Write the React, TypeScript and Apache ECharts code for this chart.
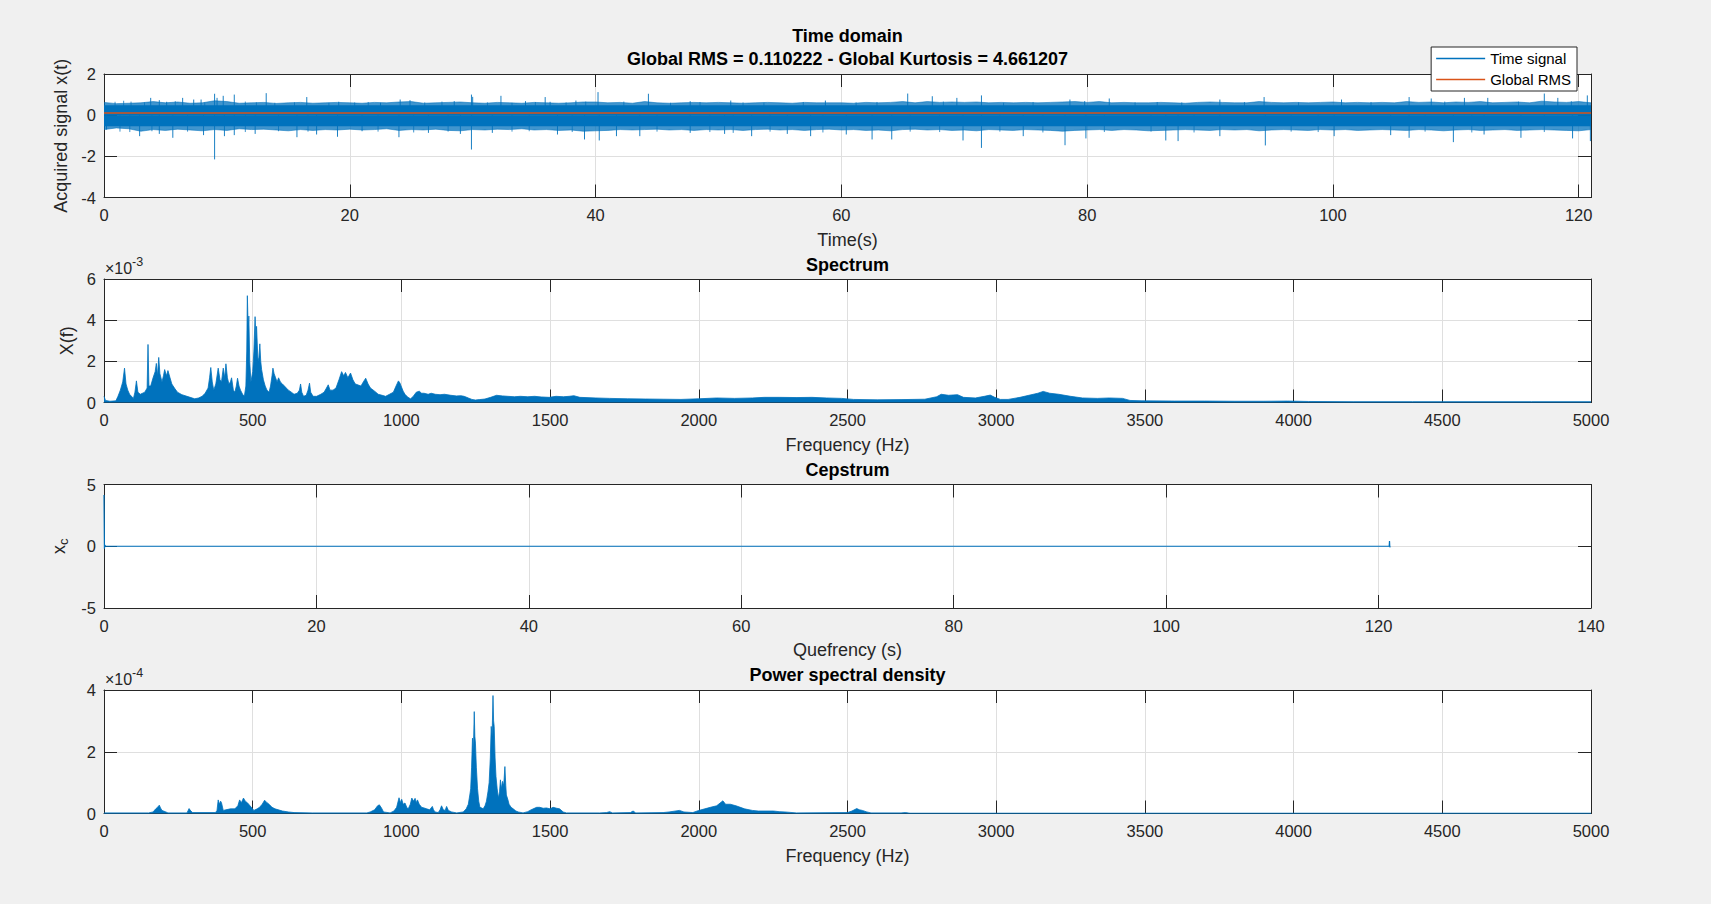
import React, { useEffect, useRef } from "react";
import * as echarts from "echarts";

const FONT = '"Liberation Sans", Arial, Helvetica, sans-serif';
const BLUE = "#0072BD";
const ORANGE = "#D95319";
const AX = "#262626";
const GRIDC = "#dfdfdf";

// ---------- Time domain ----------
const timeMax = 121;
const globalRms = 0.110222;
const globalKurtosis = 4.661207;
const timeCoreHi = 0.48;
const timeCoreLo = -0.54;
// fringe extent per second, t = 0..121
const timeFringeHi = [
  0.62, 0.56, 0.58, 0.6, 0.66, 0.6, 0.64, 0.58, 0.6, 0.7,
  0.66, 0.58, 0.6, 0.62, 0.57, 0.6, 0.62, 0.58, 0.6, 0.62,
  0.6, 0.58, 0.62, 0.6, 0.64, 0.66, 0.58, 0.6, 0.62, 0.64,
  0.6, 0.58, 0.62, 0.6, 0.58, 0.62, 0.6, 0.58, 0.6, 0.64,
  0.64, 0.6, 0.62, 0.58, 0.66, 0.6, 0.58, 0.6, 0.62, 0.6,
  0.62, 0.6, 0.58, 0.6, 0.62, 0.6, 0.58, 0.62, 0.6, 0.6,
  0.6, 0.58, 0.62, 0.6, 0.62, 0.66, 0.6, 0.66, 0.62, 0.64,
  0.62, 0.64, 0.6, 0.62, 0.6, 0.62, 0.6, 0.62, 0.64, 0.66,
  0.62, 0.66, 0.6, 0.62, 0.6, 0.6, 0.62, 0.6, 0.58, 0.62,
  0.64, 0.62, 0.6, 0.6, 0.66, 0.62, 0.6, 0.62, 0.6, 0.62,
  0.64, 0.6, 0.62, 0.6, 0.62, 0.6, 0.66, 0.62, 0.64, 0.6,
  0.64, 0.62, 0.66, 0.6, 0.62, 0.64, 0.6, 0.68, 0.64, 0.62, 0.66, 0.6,
];
const timeFringeLo = [
  -0.7, -0.62, -0.66, -0.78, -0.7, -0.74, -0.68, -0.72, -0.76, -0.7,
  -0.74, -0.66, -0.7, -0.68, -0.72, -0.76, -0.7, -0.74, -0.7, -0.72,
  -0.68, -0.72, -0.7, -0.66, -0.74, -0.7, -0.72, -0.68, -0.74, -0.76,
  -0.7, -0.72, -0.68, -0.7, -0.66, -0.72, -0.7, -0.74, -0.72, -0.78,
  -0.76, -0.74, -0.7, -0.72, -0.7, -0.68, -0.72, -0.7, -0.74, -0.7,
  -0.72, -0.7, -0.74, -0.7, -0.68, -0.72, -0.7, -0.74, -0.7, -0.68,
  -0.72, -0.7, -0.74, -0.72, -0.76, -0.7, -0.68, -0.72, -0.7, -0.74,
  -0.72, -0.76, -0.7, -0.72, -0.74, -0.7, -0.72, -0.74, -0.78, -0.74,
  -0.72, -0.7, -0.74, -0.7, -0.72, -0.76, -0.74, -0.72, -0.7, -0.72,
  -0.74, -0.7, -0.72, -0.7, -0.76, -0.72, -0.7, -0.72, -0.74, -0.7,
  -0.72, -0.7, -0.74, -0.72, -0.7, -0.72, -0.74, -0.7, -0.72, -0.76,
  -0.72, -0.7, -0.74, -0.72, -0.7, -0.74, -0.72, -0.7, -0.72, -0.74, -0.76, -0.7,
];
// large spikes
const upSpikeT = [
  3.8, 4.5, 5.1, 6.4, 7.3, 7.9, 9.0, 9.2, 9.7, 10.6, 13.2, 16.5, 19.1, 22.5, 24.1, 24.9,
  28.5, 29.9, 30.0, 32.3, 34.3, 35.9, 36.3, 38.4, 40.2, 44.3, 47.7, 51.0, 58.7, 65.4,
  67.4, 69.4, 71.4, 78.6, 79.8, 81.8, 90.8, 94.4, 100.7, 106.2, 108.0, 110.7, 112.6,
  117.2, 118.3, 120.7,
];
const upSpikeV = [
  0.84, 0.73, 0.65, 0.84, 0.76, 0.76, 1.04, 0.84, 0.94, 1.0, 1.07, 0.88, 0.65, 0.6, 0.76, 0.73,
  0.68, 1.0, 0.89, 0.94, 0.68, 0.88, 0.65, 0.71, 1.12, 1.04, 0.68, 0.71, 0.71, 1.05,
  0.92, 0.84, 0.96, 0.76, 0.68, 0.81, 0.76, 0.88, 0.76, 0.88, 0.81, 0.84, 0.84,
  1.05, 0.84, 0.96,
];
const downSpikeT = [
  0.2, 2.9, 4.5, 5.6, 8.1, 9.0, 9.8, 10.6, 12.3, 15.7, 17.3, 19.0, 21.0, 24.0, 26.4, 29.0,
  29.9, 31.6, 36.9, 39.1, 40.3, 41.7, 43.6, 47.7, 50.5, 52.7, 55.6, 57.5, 60.4, 62.5,
  64.1, 69.9, 71.4, 74.8, 78.2, 79.9, 86.4, 87.4, 90.8, 94.5, 100.1, 104.7, 106.2,
  109.8, 112.3, 115.3, 119.5, 120.95,
];
const downSpikeV = [
  -0.7, -1.02, -0.91, -1.1, -0.97, -2.15, -1.02, -0.97, -0.91, -1.07, -0.94, -1.05, -0.78, -1.07, -0.86, -0.91,
  -1.67, -0.86, -0.94, -1.18, -1.23, -1.02, -1.02, -0.86, -0.91, -1.02, -0.91, -1.02, -0.94, -1.18,
  -1.18, -1.23, -1.59, -1.02, -1.46, -1.13, -1.23, -1.26, -1.02, -1.47, -1.02, -0.97, -1.1,
  -1.31, -0.94, -1.1, -1.13, -1.26,
];
// smaller spikes along the band edges
const smallUpT = [
  0.9, 1.6, 2.2, 3.3, 5.8, 8.2, 11.5, 12.4, 13.9, 15.5, 18.3, 20.4, 21.5, 26.1, 27.5, 31.2,
  33.2, 35.1, 37.6, 39.2, 42.3, 46.1, 48.5, 52.0, 53.7, 56.9, 61.2, 62.9, 68.3, 73.2, 75.6,
  83.9, 85.7, 87.7, 92.8, 97.2, 103.1, 109.1, 115.1, 119.4,
];
const smallUpV = [
  0.65, 0.7, 0.66, 0.62, 0.68, 0.62, 0.66, 0.62, 0.6, 0.62, 0.6, 0.62, 0.64, 0.62, 0.66, 0.62,
  0.6, 0.64, 0.62, 0.66, 0.66, 0.6, 0.64, 0.62, 0.6, 0.64, 0.62, 0.64, 0.66, 0.6, 0.64,
  0.62, 0.64, 0.62, 0.64, 0.62, 0.64, 0.66, 0.66, 0.68,
];
const smallDownT = [
  1.3, 2.1, 3.9, 6.8, 11.5, 14.2, 16.6, 22.3, 25.2, 28.0, 33.2, 34.6, 38.1,
  45.0, 49.3, 51.2, 54.2, 58.5, 65.6, 68.0, 72.9, 76.4,
  81.4, 85.2, 88.7, 96.6, 98.8, 107.5, 111.3, 117.2,
];
const smallDownV = [
  -0.8, -0.82, -0.78, -0.8, -0.82, -0.78, -0.8, -0.8, -0.84, -0.8, -0.8, -0.78, -0.82,
  -0.8, -0.82, -0.86, -0.8, -0.84, -0.8, -0.82, -0.8, -0.84,
  -0.82, -0.8, -0.84, -0.8, -0.82, -0.8, -0.84, -0.82,
];

// ---------- Spectrum (x 10^-3) ----------
const specFreq = [
  0, 5, 20, 40, 47, 55, 63, 69, 74, 80, 86, 99, 104, 109, 114, 122, 137, 145, 148, 151,
  157, 165, 172, 176, 180, 184, 188, 195, 200, 204, 210, 215, 222, 228, 237, 247, 262, 279, 305, 318,
  330, 340, 350, 355, 359, 364, 369, 376, 384, 390, 395, 401, 406, 410, 415, 420, 425, 429, 435, 440,
  445, 449, 454, 459, 466, 472, 477, 480, 482, 485, 487, 490, 494, 500, 504, 508, 511, 513, 516, 518,
  521, 524, 527, 530, 536, 542, 548, 555, 560, 565, 568, 572, 577, 582, 587, 593, 600, 610, 620, 630,
  639, 650, 657, 661, 665, 671, 680, 686, 691, 695, 703, 715, 729, 740, 748, 754, 760, 770, 780, 790,
  799, 806, 812, 820, 829, 837, 845, 855, 864, 872, 880, 888, 896, 910, 922, 935, 947, 960, 973, 982,
  990, 995, 999, 1006, 1012, 1022, 1031, 1040, 1050, 1060, 1068, 1076, 1090, 1100, 1114, 1130, 1145, 1166, 1185, 1200,
  1211, 1225, 1237, 1249, 1262, 1281, 1300, 1320, 1340, 1358, 1380, 1400, 1425, 1448, 1470, 1497, 1520, 1545, 1564, 1580,
  1600, 1654, 1700, 1760, 1820, 1880, 1940, 2000, 2060, 2120, 2180, 2220, 2270, 2330, 2380, 2430, 2480, 2520, 2600, 2680,
  2760, 2800, 2815, 2840, 2870, 2890, 2930, 2960, 2980, 2995, 3014, 3040, 3080, 3110, 3140, 3158, 3180, 3210, 3250, 3290,
  3340, 3380, 3425, 3450, 3490, 3600, 3700, 3800, 3900, 3980, 4050, 4200, 4400, 4600, 4800, 5000,
];
const specAmp = [
  0.3, 0.1, 0.06, 0.08, 0.3, 0.6, 1.0, 1.67, 0.9, 0.6, 0.4, 0.2, 0.5, 1.05, 0.5, 0.4, 0.5, 0.7, 2.82, 0.8,
  0.8, 1.2, 1.5, 1.9, 1.3, 2.19, 1.4, 1.0, 1.3, 1.6, 1.3, 1.55, 1.2, 0.9, 0.7, 0.5, 0.38, 0.3, 0.18, 0.22,
  0.3, 0.45, 0.7, 1.2, 1.7, 1.0, 0.6, 0.9, 1.67, 1.1, 1.0, 1.67, 1.2, 1.88, 1.2, 0.9, 1.0, 1.2, 0.6, 0.5,
  0.8, 1.18, 0.8, 0.6, 0.4, 0.3, 0.8, 2.5, 5.19, 3.5, 4.2, 2.0, 1.0, 1.5, 2.5, 4.17, 3.0, 3.7, 2.6, 2.0,
  2.2, 2.85, 2.0, 1.6, 1.1, 0.8, 0.6, 0.5, 0.8, 1.3, 1.67, 1.4, 1.2, 1.0, 1.2, 1.0, 0.9, 0.75, 0.6, 0.5,
  0.4, 0.45, 0.6, 0.9, 0.5, 0.3, 0.35, 0.6, 0.94, 0.5, 0.3, 0.3, 0.4, 0.5, 0.7, 0.86, 0.6, 0.6, 0.7, 1.1,
  1.5, 1.3, 1.46, 1.2, 1.43, 1.1, 0.9, 0.85, 0.8, 1.0, 1.18, 0.9, 0.7, 0.55, 0.4, 0.35, 0.3, 0.4, 0.5, 0.8,
  1.05, 0.95, 0.8, 0.55, 0.4, 0.25, 0.18, 0.3, 0.5, 0.55, 0.45, 0.45, 0.4, 0.45, 0.4, 0.38, 0.4, 0.35, 0.32, 0.33,
  0.3, 0.22, 0.15, 0.12, 0.14, 0.17, 0.25, 0.35, 0.32, 0.3, 0.28, 0.3, 0.28, 0.3, 0.27, 0.25, 0.3, 0.28, 0.3, 0.33,
  0.25, 0.22, 0.2, 0.18, 0.17, 0.16, 0.15, 0.18, 0.22, 0.2, 0.22, 0.25, 0.25, 0.24, 0.25, 0.22, 0.2, 0.15, 0.13, 0.14,
  0.16, 0.28, 0.4, 0.35, 0.38, 0.25, 0.22, 0.3, 0.36, 0.25, 0.15, 0.15, 0.25, 0.35, 0.45, 0.54, 0.45, 0.4, 0.3, 0.22,
  0.2, 0.22, 0.2, 0.1, 0.08, 0.07, 0.07, 0.06, 0.06, 0.07, 0.05, 0.04, 0.04, 0.04, 0.04, 0.04,
];

// ---------- Cepstrum ----------
const cepQuef = [0, 0.04, 0.08, 0.15, 60, 121.0, 121.03, 121.06, 121.1];
const cepVal = [4.15, -0.2, 0.1, 0.0, 0.0, 0.0, 0.43, -0.08, 0.0];

// ---------- Power spectral density (x 10^-4) ----------
const psdFreq = [
  0, 150, 165, 174, 180, 186, 190, 195, 208, 215, 279, 283, 286, 292, 298, 375, 380, 384, 388, 392,
  395, 401, 410, 425, 440, 450, 456, 462, 469, 475, 482, 491, 504, 515, 523, 532, 540, 548, 555, 565,
  575, 600, 620, 639, 700, 884, 895, 910, 920, 926, 933, 940, 962, 975, 984, 992, 997, 1001, 1006, 1012,
  1018, 1023, 1030, 1035, 1041, 1046, 1050, 1054, 1060, 1068, 1076, 1085, 1095, 1104, 1108, 1113, 1124, 1130, 1135, 1141,
  1147, 1152, 1158, 1169, 1186, 1208, 1218, 1225, 1230, 1233, 1236, 1239, 1242, 1245, 1247, 1249, 1252, 1256, 1260, 1264,
  1270, 1275, 1281, 1286, 1291, 1295, 1299, 1302, 1305, 1308, 1310, 1312, 1315, 1318, 1322, 1326, 1330, 1333, 1336, 1340,
  1344, 1348, 1351, 1353, 1358, 1362, 1369, 1376, 1385, 1393, 1409, 1425, 1432, 1443, 1455, 1465, 1477, 1488, 1500, 1510,
  1522, 1532, 1544, 1555, 1667, 1690, 1700, 1710, 1770, 1779, 1788, 1880, 1900, 1935, 1950, 1980, 2000, 2020, 2039, 2060,
  2081, 2090, 2106, 2125, 2154, 2180, 2200, 2251, 2270, 2290, 2328, 2500, 2515, 2531, 2540, 2550, 2565, 2579, 2680, 2695,
  2710, 5000,
];
const psdVal = [
  0.02, 0.02, 0.05, 0.15, 0.2, 0.27, 0.18, 0.1, 0.05, 0.02, 0.02, 0.1, 0.16, 0.08, 0.03, 0.03, 0.1, 0.44, 0.3, 0.4,
  0.35, 0.1, 0.12, 0.15, 0.15, 0.25, 0.44, 0.35, 0.5, 0.4, 0.35, 0.25, 0.1, 0.15, 0.2, 0.3, 0.43, 0.35, 0.3, 0.2,
  0.15, 0.08, 0.05, 0.03, 0.02, 0.02, 0.05, 0.12, 0.25, 0.28, 0.18, 0.05, 0.02, 0.08, 0.2, 0.51, 0.35, 0.46, 0.3, 0.34,
  0.2, 0.15, 0.3, 0.5, 0.4, 0.49, 0.35, 0.44, 0.3, 0.2, 0.18, 0.15, 0.12, 0.23, 0.12, 0.05, 0.03, 0.12, 0.25, 0.12,
  0.1, 0.23, 0.1, 0.05, 0.02, 0.05, 0.15, 0.3, 0.6, 0.8, 1.5, 2.44, 2.0, 3.3, 2.5, 2.28, 1.5, 0.8, 0.4, 0.2,
  0.18, 0.15, 0.25, 0.4, 0.7, 1.0, 1.8, 2.82, 2.5, 3.82, 3.0, 2.82, 1.8, 1.2, 0.8, 0.5, 0.7, 1.09, 0.8, 1.04,
  0.9, 1.52, 0.9, 0.6, 0.45, 0.3, 0.2, 0.15, 0.08, 0.05, 0.02, 0.06, 0.1, 0.15, 0.2, 0.2, 0.17, 0.18, 0.15, 0.2,
  0.17, 0.15, 0.05, 0.02, 0.02, 0.03, 0.06, 0.02, 0.03, 0.08, 0.02, 0.03, 0.05, 0.1, 0.05, 0.03, 0.1, 0.15, 0.2, 0.25,
  0.41, 0.3, 0.3, 0.25, 0.15, 0.1, 0.08, 0.08, 0.06, 0.05, 0.02, 0.03, 0.08, 0.16, 0.12, 0.1, 0.05, 0.02, 0.02, 0.03,
  0.01, 0.01,
];

// ---------- Layout ----------
const GL = 104;
const GW = 1487;
const GH = 123.5;
const gridTops = [74, 279, 484.5, 690];
const CX = GL + GW / 2;

const tickLabel = { color: AX, fontSize: 16.5, fontFamily: FONT };
const nameStyle = { color: AX, fontSize: 18, fontFamily: FONT };

function fmt(interval: number) {
  return (v: number) => {
    const r = v / interval;
    return Math.abs(r - Math.round(r)) < 1e-6 ? String(Math.round(v * 1000) / 1000) : "";
  };
}

function xPair(gi: number, min: number, max: number, interval: number, name: string) {
  return [
    {
      type: "value", gridIndex: gi, position: "bottom", min, max, interval,
      axisLine: { show: true, onZero: false, lineStyle: { color: AX, width: 1 } },
      axisTick: { show: true, inside: true, length: 13, lineStyle: { color: AX, width: 1 } },
      axisLabel: { ...tickLabel, margin: 9, formatter: fmt(interval) },
      splitLine: { show: true, lineStyle: { color: GRIDC, width: 1 } },
      name, nameLocation: "middle", nameGap: 33, nameTextStyle: nameStyle,
    },
    {
      type: "value", gridIndex: gi, position: "top", min, max, interval,
      axisLine: { show: true, onZero: false, lineStyle: { color: AX, width: 1 } },
      axisTick: { show: true, inside: true, length: 13, lineStyle: { color: AX, width: 1 } },
      axisLabel: { show: false },
      splitLine: { show: false },
    },
  ];
}

function yPair(gi: number, min: number, max: number, interval: number, name: string, nameGap: number, rich?: any) {
  return [
    {
      type: "value", gridIndex: gi, position: "left", min, max, interval,
      axisLine: { show: true, onZero: false, lineStyle: { color: AX, width: 1 } },
      axisTick: { show: true, inside: true, length: 13, lineStyle: { color: AX, width: 1 } },
      axisLabel: { ...tickLabel, margin: 8, formatter: fmt(interval) },
      splitLine: { show: true, lineStyle: { color: GRIDC, width: 1 } },
      name, nameLocation: "middle", nameGap, nameRotate: 90,
      nameTextStyle: rich ? { ...nameStyle, rich } : nameStyle,
    },
    {
      type: "value", gridIndex: gi, position: "right", min, max, interval,
      axisLine: { show: true, onZero: false, lineStyle: { color: AX, width: 1 } },
      axisTick: { show: true, inside: true, length: 13, lineStyle: { color: AX, width: 1 } },
      axisLabel: { show: false },
      splitLine: { show: false },
    },
  ];
}

function makeSpikeRender(opacity: number) {
  return (params: any, api: any) => {
    const t = api.value(0);
    const v = api.value(1);
    const a = api.coord([t, 0]);
    const b = api.coord([t, v]);
    return {
      type: "line",
      shape: { x1: a[0], y1: a[1], x2: b[0], y2: b[1] },
      style: { stroke: BLUE, lineWidth: 1, opacity },
    };
  };
}

function buildOption() {
  const fringeT = timeFringeHi.map((_, i) => Math.min(i, timeMax));
  const xAxis = [
    ...xPair(0, 0, timeMax, 20, "Time(s)"),
    ...xPair(1, 0, 5000, 500, "Frequency (Hz)"),
    ...xPair(2, 0, 140, 20, "Quefrency (s)"),
    ...xPair(3, 0, 5000, 500, "Frequency (Hz)"),
  ];
  const yAxis = [
    ...yPair(0, -4, 2, 2, "Acquired signal x(t)", 28),
    ...yPair(1, 0, 6, 2, "X(f)", 21),
    ...yPair(2, -5, 5, 5, "{a|x}{b|c}", 30, {
      a: { fontSize: 18, fontFamily: FONT, color: AX, lineHeight: 22, verticalAlign: "middle" },
      b: { fontSize: 13, fontFamily: FONT, color: AX, lineHeight: 12, verticalAlign: "bottom" },
    }),
    ...yPair(3, 0, 4, 2, "", 22),
  ];
  const lineBase = { type: "line", symbol: "none", showSymbol: false, silent: true };
  const series: any[] = [
    {
      ...lineBase, name: "Time signal", xAxisIndex: 0, yAxisIndex: 0, color: BLUE,
      data: fringeT.map((t, i) => [t, timeFringeHi[i]]),
      lineStyle: { color: BLUE, width: 0.8, opacity: 0.7 },
      areaStyle: { color: BLUE, opacity: 0.75, origin: 0 },
    },
    {
      ...lineBase, name: "Time signal", xAxisIndex: 0, yAxisIndex: 0, color: BLUE,
      data: fringeT.map((t, i) => [t, timeFringeLo[i]]),
      lineStyle: { color: BLUE, width: 0.8, opacity: 0.7 },
      areaStyle: { color: BLUE, opacity: 0.75, origin: 0 },
    },
    {
      ...lineBase, name: "Time signal", xAxisIndex: 0, yAxisIndex: 0, color: BLUE,
      data: [[0, timeCoreHi], [timeMax, timeCoreHi]],
      lineStyle: { color: BLUE, width: 0 },
      areaStyle: { color: BLUE, opacity: 1, origin: 0 },
    },
    {
      ...lineBase, name: "Time signal", xAxisIndex: 0, yAxisIndex: 0, color: BLUE,
      data: [[0, timeCoreLo], [timeMax, timeCoreLo]],
      lineStyle: { color: BLUE, width: 0 },
      areaStyle: { color: BLUE, opacity: 1, origin: 0 },
    },
    {
      type: "custom", name: "Time signal", xAxisIndex: 0, yAxisIndex: 0, color: BLUE, silent: true,
      renderItem: makeSpikeRender(0.75), encode: { x: 0, y: 1 },
      data: smallUpT.map((t, i) => [t, smallUpV[i]]).concat(smallDownT.map((t, i) => [t, smallDownV[i]])),
    },
    {
      type: "custom", name: "Time signal", xAxisIndex: 0, yAxisIndex: 0, color: BLUE, silent: true,
      renderItem: makeSpikeRender(0.9), encode: { x: 0, y: 1 },
      data: upSpikeT.map((t, i) => [t, upSpikeV[i]]).concat(downSpikeT.map((t, i) => [t, downSpikeV[i]])),
    },
    {
      ...lineBase, name: "Global RMS", xAxisIndex: 0, yAxisIndex: 0, color: ORANGE, z: 5,
      data: [[0, globalRms], [timeMax, globalRms]],
      lineStyle: { color: ORANGE, width: 1.5 },
    },
    {
      ...lineBase, name: "Spectrum", xAxisIndex: 2, yAxisIndex: 2, color: BLUE,
      data: specFreq.map((f, i) => [f, specAmp[i]]),
      lineStyle: { color: BLUE, width: 0.8 },
      areaStyle: { color: BLUE, opacity: 1, origin: 0 },
    },
    {
      ...lineBase, name: "Cepstrum", xAxisIndex: 4, yAxisIndex: 4, color: BLUE,
      data: cepQuef.map((q, i) => [q, cepVal[i]]),
      lineStyle: { color: BLUE, width: 1.2 },
    },
    {
      ...lineBase, name: "PSD", xAxisIndex: 6, yAxisIndex: 6, color: BLUE,
      data: psdFreq.map((f, i) => [f, psdVal[i]]),
      lineStyle: { color: BLUE, width: 0.8 },
      areaStyle: { color: BLUE, opacity: 1, origin: 0 },
    },
  ];

  const titleStyle = (text: string) => ({
    text, fill: "#000", fontSize: 18, fontWeight: "bold", fontFamily: FONT,
    align: "center", verticalAlign: "middle",
  });
  const graphic: any[] = [
    { type: "text", x: CX, y: 36, silent: true, style: titleStyle("Time domain") },
    {
      type: "text", x: CX, y: 59, silent: true,
      style: titleStyle(`Global RMS = ${globalRms.toFixed(6)} - Global Kurtosis = ${globalKurtosis.toFixed(6)}`),
    },
    { type: "text", x: CX, y: 265, silent: true, style: titleStyle("Spectrum") },
    { type: "text", x: CX, y: 470, silent: true, style: titleStyle("Cepstrum") },
    { type: "text", x: CX, y: 675, silent: true, style: titleStyle("Power spectral density") },
    {
      type: "text", x: 105, y: gridTops[1] - 3, silent: true,
      style: { text: "×10", fill: AX, fontSize: 16, fontFamily: FONT, align: "left", verticalAlign: "bottom" },
    },
    {
      type: "text", x: 132, y: gridTops[1] - 11, silent: true,
      style: { text: "-3", fill: AX, fontSize: 12.5, fontFamily: FONT, align: "left", verticalAlign: "bottom" },
    },
    {
      type: "text", x: 105, y: gridTops[3] - 3, silent: true,
      style: { text: "×10", fill: AX, fontSize: 16, fontFamily: FONT, align: "left", verticalAlign: "bottom" },
    },
    {
      type: "text", x: 132, y: gridTops[3] - 11, silent: true,
      style: { text: "-4", fill: AX, fontSize: 12.5, fontFamily: FONT, align: "left", verticalAlign: "bottom" },
    },
  ];

  return {
    animation: false,
    backgroundColor: "#f0f0f0",
    grid: gridTops.map((top) => ({
      left: GL, top, width: GW, height: GH, show: true, backgroundColor: "#ffffff", borderWidth: 0,
    })),
    xAxis,
    yAxis,
    series,
    legend: {
      show: true,
      orient: "vertical",
      right: 1711 - 1577,
      top: 47,
      backgroundColor: "#ffffff",
      borderColor: AX,
      borderWidth: 1,
      borderRadius: 0,
      padding: [4, 6, 4, 5],
      itemGap: 6,
      itemWidth: 49,
      itemHeight: 1.5,
      selectedMode: false,
      textStyle: { color: "#000", fontSize: 15, fontFamily: FONT },
      data: [
        { name: "Time signal", icon: "rect", itemStyle: { color: BLUE } },
        { name: "Global RMS", icon: "rect", itemStyle: { color: ORANGE } },
      ],
    },
    graphic,
  };
}

export default function App() {
  const ref = useRef<HTMLDivElement>(null);
  useEffect(() => {
    document.body.style.margin = "0";
    document.body.style.background = "#f0f0f0";
    const chart = echarts.init(ref.current as HTMLDivElement, null, { renderer: "svg" });
    chart.setOption(buildOption() as any);
    return () => chart.dispose();
  }, []);
  return <div ref={ref} style={{ width: 1711, height: 904, background: "#f0f0f0" }} />;
}
